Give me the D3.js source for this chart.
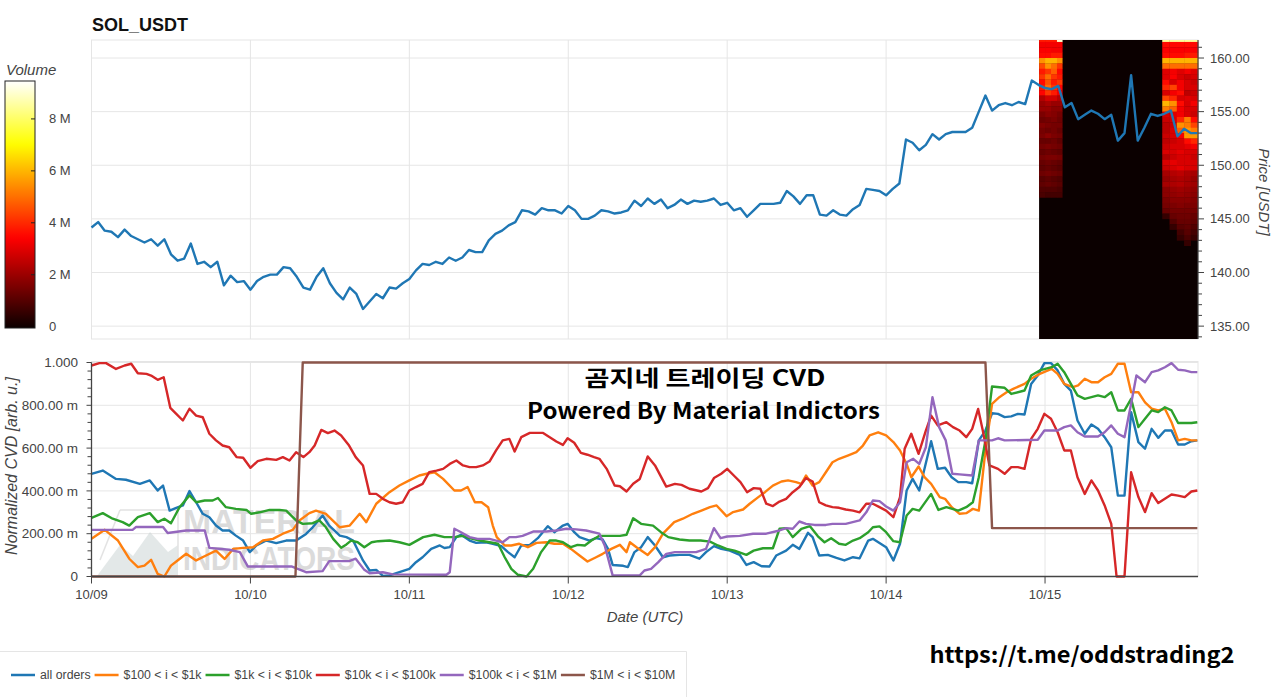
<!DOCTYPE html>
<html><head><meta charset="utf-8">
<script src="https://cdn.jsdelivr.net/npm/d3@7"></script>
<style>
body{margin:0;background:#fff;}
svg{display:block;font-family:"Liberation Sans",Arial,sans-serif;}
</style></head><body>
<svg id="c" width="1280" height="697"></svg>
<script>
// ---------------- DATA ----------------
const title = "SOL_USDT";
const dayTicks = [0,24,48,72,96,120,144];           // hours since 10/09 00:00 UTC
const dayLabels = ["10/09","10/10","10/11","10/12","10/13","10/14","10/15"];
const hourEnd = 167.1;

const priceTicks = [135,140,145,150,155,160];
// hourly SOL price, index = hour since 10/09 00:00
const price = [144.2,144.7,143.9,143.8,143.3,144.0,143.4,143.1,142.8,143.1,142.5,143.1,141.7,141.1,141.3,142.7,140.8,141.0,140.5,141.0,138.8,139.7,139.1,139.2,
138.4,139.2,139.6,139.8,139.8,140.5,140.4,139.6,138.6,138.4,139.6,140.4,139.0,138.1,137.5,138.6,138.0,136.6,137.3,138.0,137.6,138.6,138.5,139.0,
139.4,140.2,140.8,140.7,141.0,140.8,141.4,141.1,141.4,142.1,141.9,141.9,143.0,143.6,143.9,144.4,144.7,145.8,145.7,145.4,146.0,145.8,145.8,145.5,
146.2,145.8,145.0,145.0,145.3,145.8,145.7,145.5,145.6,145.8,146.7,146.2,146.9,146.4,146.8,146.0,146.3,146.8,146.4,146.7,146.6,146.7,146.9,146.3,
146.5,145.8,146.0,145.2,145.8,146.4,146.4,146.4,146.5,147.6,147.1,146.4,147.2,147.2,145.4,145.3,145.8,145.4,145.3,145.9,146.3,147.8,147.7,147.6,
147.2,147.8,148.3,152.4,152.1,151.4,151.9,152.9,152.4,152.9,153.1,153.1,153.1,153.5,155.0,156.5,155.1,155.6,155.8,155.6,155.9,155.7,157.9,157.5,
157.2,157.1,157.4,155.4,155.8,154.3,154.7,155.1,154.8,154.3,154.7,152.3,153.0,158.4,152.3,153.5,154.8,154.6,154.8,155.1,152.7,153.4,153.0,153.0];

// volume heatmap (millions); column edges in hours, rows of 0.5 USDT from 162 downward
const heatEdges = [143.1,144.0,144.9,145.8,146.6,161.7,162.8,163.9,165.0,166.0,167.1];
const heatTopPrice = 162, heatRowSize = 0.5;
const heatLeft = [ // columns 0..3
[3.8,3.8,3.8,9],[3.3,3.3,3.3,3.3],[3.4,3.4,3.3,3.3],[3.6,3.6,3.8,3.8],[5.5,6,6,5.5],[4.5,5.5,5,4.2],[3.8,4.2,4.8,3.6],[4.2,5,4.2,3.8],
[3.6,4.6,3.8,4.2],[3.8,5,4.2,3.5],[3.5,4.2,3.8,3.2],[2.4,2.8,2.8,2.4],[2,2.2,2,2],[2,2,1.8,1.8],[1.6,1.8,1.7,1.5],[1.4,1.5,1.6,1.4],
[1.7,1.6,1.5,1.5],[1.5,1.4,1.5,1.3],[1.6,1.8,1.6,1.5],[1.3,1.3,1.4,1.2],[1.5,1.6,1.5,1.4],[1.3,1.4,1.3,1.2],[1.5,1.6,1.6,1.5],
[1.3,1.4,1.3,1.2],[1.2,1.3,1.2,1.1],[1.4,1.5,1.4,1.3],[1.1,1.2,1.1,1.0],[1.2,1.3,1.2,1.1],[1.0,1.0,1.0,0.9],[0.9,0.8,0.8,0.8]];
const heatRight = [ // columns 5..9
[8.5,8.5,8.5,8.5,8.5],[3.6,3.6,3.6,3.6,3.6],[3.4,3.4,3.4,3.4,3.4],[3.6,3.6,3.6,3.8,3.8],[6,6,6,6,6],[5,5,5,5,5],
[3,3.3,3,3.3,3],[3,3.4,2.9,2.7,2.9],[3.6,2.9,3.3,2.9,2.7],[4,4.4,3.3,2.9,2.9],[2.9,3.3,3.6,2.5,2.7],[4.4,4,2.9,3,2.9],[6,5.5,3.6,2.9,3.3],
[5.2,4.8,3.3,2.9,2.9],[2.9,3,3.3,2.9,2.7],[2.7,2.9,4,5.2,3.6],[2.5,2.7,5.5,5.2,4.4],[2.5,2.9,4.8,5.6,5.2],[2.7,2.9,3.3,5.6,5.6],[2.5,2.7,2.9,3.6,4],
[2.7,2.9,2.9,3.1,3.3],[2.9,2.9,3.1,2.9,2.9],[2.4,2.7,2.9,2.9,2.7],[2.9,3.1,2.9,2.9,2.9],[2.7,2.9,3.1,2.9,2.9],[2.2,2.4,2.5,2.3,2.2],[2,2.2,2.3,2.2,2],
[2.2,2.3,2.4,2.2,2.1],[1.8,2,2.1,2,1.9],[1.8,1.9,2,1.9,1.8],[1.6,1.8,1.8,1.8,1.7],[1.5,1.6,1.7,1.6,1.6],[1.3,1.5,1.5,1.5,1.5],
[0.6,1.3,1.4,1.4,1.3],[0,1.0,1.3,1.3,1.2],[0,0.6,1.1,1.2,1.0],[0,0,0.8,1.1,0.8],[0,0,0.6,0.9,0.6],[0,0,0,0.6,0]];
const volMax = 9.46;
const volTicks = [0,2,4,6,8];
const volTickLabels = ["0","2 M","4 M","6 M","8 M"];

const cvdTicks = [0,0.2,0.4,0.6,0.8,1.0];
const cvdTickLabels = ["0","200.00 m","400.00 m","600.00 m","800.00 m","1.000"];
const seriesNames = ["all orders","$100 < i < $1k","$1k < i < $10k","$10k < i < $100k","$100k < i < $1M","$1M < i < $10M"];
const seriesColors = ["#1f77b4","#ff7f0e","#2ca02c","#d62728","#9467bd","#8c564b"];

// [hour, normalized CVD]
const cvdAll = [[0,.48],[1.7,.495],[3.7,.456],[5.2,.452],[7.3,.433],[8.8,.449],[10,.402],[10.8,.425],[11.8,.308],[12.8,.321],[13.8,.332],[14.8,.399],[15.8,.347],[16.8,.293],[17.8,.277],[18.8,.238],[19.8,.215],[20.8,.215],[21.8,.191],[22.9,.168],[23.9,.114],[24.9,.145],[26.4,.168],[27.9,.156],[29.4,.168],[30.9,.168],[32.4,.199],[33.4,.23],[34.9,.285],[35.9,.238],[37.5,.191],[38.5,.184],[39.5,.168],[41,.075],[42,.028],[43,.031],[44,.003],[45,.005],[46.5,.02],[48,.036],[49,.067],[50,.09],[51.3,.129],[52.6,.145],[53.3,.133],[54.1,.137],[55.1,.184],[55.8,.195],[57.1,.168],[58.1,.157],[59.6,.16],[60.6,.153],[61.9,.142],[62.9,.114],[63.9,.09],[64.9,.145],[66.2,.148],[67.4,.179],[68.9,.235],[69.9,.207],[71.2,.238],[71.9,.246],[72.9,.207],[73.7,.184],[75.2,.168],[76.2,.179],[77.2,.173],[78,.129],[78.7,.054],[80.3,.05],[81,.044],[82,.114],[83,.137],[84,.184],[85.1,.145],[86.3,.09],[87.3,.098],[88.8,.101],[90.3,.101],[91.8,.083],[92.8,.114],[94,.142],[95.1,.129],[96.4,.121],[97.9,.101],[98.9,.054],[100,.067],[101.2,.048],[102.4,.047],[103.4,.098],[104.9,.121],[105.9,.148],[106.9,.129],[108.2,.204],[108.9,.184],[109.9,.098],[111.2,.101],[112.5,.087],[113.7,.075],[115,.09],[116,.085],[117.3,.168],[118,.176],[120,.137],[121.1,.075],[122.1,.153],[123.1,.402],[124,.456],[125,.402],[126.8,.632],[127.8,.503],[128.9,.508],[129.9,.464],[130.9,.441],[132.1,.441],[133,.436],[134,.636],[135,.682],[136,.763],[136.9,.76],[137.9,.745],[138.9,.748],[139.9,.76],[140.9,.757],[141.9,.9],[142.9,.939],[143.9,.997],[144.9,.997],[145.9,.963],[146.9,.9],[147.9,.869],[148.9,.729],[150,.667],[151,.71],[152,.69],[153,.651],[154,.604],[155,.378],[156,.378],[157,.768],[158.1,.628],[159.1,.597],[160.1,.69],[161.1,.648],[162.1,.682],[163.1,.682],[164.1,.617],[165.1,.617],[166.1,.632],[167,.636]];
const cvd100 = [[0,.176],[2,.218],[4,.168],[5.7,.083],[7,.044],[8,.051],[9,.078],[10,.012],[11,0],[12,.051],[13,.075],[14.3,.106],[15.8,.075],[17.3,.098],[18.8,.121],[20.1,.082],[21.4,.129],[22.9,.134],[24.4,.137],[25.9,.168],[27.4,.176],[28.9,.2],[30.4,.218],[31.4,.262],[32.9,.296],[33.9,.308],[35.4,.293],[37.5,.23],[39,.238],[40.5,.293],[41.5,.254],[43,.34],[45,.394],[46.5,.425],[48,.449],[49.5,.472],[50.6,.48],[51.8,.487],[53.1,.456],[54.8,.402],[55.8,.402],[56.8,.418],[57.9,.347],[58.9,.347],[59.9,.324],[60.6,.238],[61.2,.184],[62.4,.145],[63.4,.145],[64.6,.153],[65.9,.137],[67.2,.157],[68.7,.16],[69.9,.153],[71.2,.153],[72.4,.129],[73.7,.098],[74.9,.07],[76.2,.09],[77.2,.106],[78.5,.129],[79.8,.148],[80.8,.114],[81.3,.16],[82.3,.137],[84,.101],[85.1,.137],[86.3,.2],[88,.254],[89.3,.27],[90.8,.293],[92.1,.308],[93.4,.324],[94.4,.332],[95.9,.282],[96.9,.301],[98.4,.313],[99.4,.34],[100.7,.371],[101.7,.394],[102.9,.425],[104.2,.444],[105.2,.449],[106.4,.441],[107.2,.433],[107.9,.472],[108.9,.425],[109.9,.441],[110.9,.487],[111.9,.534],[112.9,.55],[114.2,.565],[115.5,.581],[116.5,.612],[117.5,.659],[118.8,.674],[120,.659],[121.1,.628],[122.1,.589],[123.1,.526],[123.8,.464],[124.9,.514],[125.8,.464],[126.8,.433],[128.1,.371],[128.9,.363],[129.9,.324],[131.1,.293],[132.1,.296],[133.1,.316],[134,.308],[135,.589],[136,.807],[137.1,.838],[138.2,.861],[139.2,.877],[140.9,.9],[141.9,.924],[143.2,.947],[145,.97],[145.9,.947],[146.9,.9],[148.2,.885],[149,.893],[150,.924],[151,.908],[152,.908],[153,.931],[154,.947],[155,.994],[156,.994],[157,.861],[158.1,.861],[159.1,.814],[160.1,.784],[161.1,.776],[162.1,.784],[163.1,.721],[164.1,.636],[165.1,.643],[166.1,.636],[167,.636]];
const cvd1k = [[0,.274],[1.7,.296],[3.2,.27],[4.7,.254],[5.7,.238],[7,.277],[8.8,.296],[10,.254],[11,.27],[12,.249],[13.3,.324],[14.8,.379],[15.8,.347],[17.1,.355],[18.3,.355],[19.1,.367],[20.3,.324],[21.8,.316],[23.4,.311],[24.1,.293],[25.4,.3],[26.9,.311],[28.4,.311],[29.4,.308],[30.9,.262],[31.9,.246],[33.4,.249],[34.4,.262],[35.4,.23],[36.5,.176],[37.7,.134],[38.5,.15],[39.2,.168],[40.2,.16],[41.2,.137],[42.3,.16],[43.3,.165],[45,.168],[46.5,.16],[48,.148],[50.1,.184],[51.8,.195],[53.3,.184],[54.8,.184],[56.1,.19],[57.1,.179],[58.6,.168],[60.1,.16],[61.4,.153],[62.4,.09],[63.4,.036],[64.4,.008],[65.7,0],[66.7,.036],[67.9,.114],[69.2,.168],[70.2,.168],[71.2,.16],[72.4,.137],[73.4,.148],[74.5,.145],[75.5,.168],[76.7,.19],[78.3,.19],[79.8,.19],[80.8,.195],[81.8,.272],[83,.246],[84.8,.238],[86,.207],[87.1,.184],[88.8,.173],[90.3,.168],[92,.168],[93.4,.163],[94.6,.145],[95.9,.129],[97.1,.121],[98.9,.101],[100,.121],[101.4,.132],[102.9,.132],[103.9,.223],[104.9,.226],[105.9,.184],[107.2,.223],[108.5,.235],[109.7,.188],[110.7,.16],[111.7,.179],[112.9,.153],[113.9,.148],[115,.168],[116,.179],[117.3,.207],[118,.23],[119,.234],[120,.207],[121.1,.165],[122.1,.16],[123.1,.285],[124,.316],[125,.308],[126.8,.386],[127.9,.311],[129.1,.324],[130.9,.308],[132.1,.324],[133.1,.347],[134,.464],[135,.636],[136,.888],[137.9,.882],[138.9,.853],[140.9,.869],[141.9,.939],[143.2,.963],[145,.978],[145.9,.994],[146.9,.955],[147.9,.9],[148.9,.846],[150,.83],[152,.846],[153,.838],[154,.861],[155,.776],[156,.776],[157,.83],[158.1,.698],[159.1,.737],[160.1,.776],[161.1,.768],[162.1,.791],[163.1,.776],[164.1,.717],[166.1,.717],[167,.721]];
const cvd10k = [[0,.986],[1.2,.997],[2.2,.997],[3.7,.97],[5,.986],[6,.994],[7,.95],[8.3,.947],[9,.939],[10,.919],[10.9,.931],[11.9,.788],[12.8,.76],[13.8,.729],[14.8,.784],[15.8,.752],[16.8,.744],[17.8,.667],[18.8,.636],[19.8,.612],[20.8,.604],[21.9,.558],[22.9,.555],[24,.508],[25.1,.539],[26.4,.55],[27.9,.545],[28.9,.558],[29.9,.542],[30.9,.581],[32,.558],[32.9,.581],[33.7,.612],[34.7,.685],[35.7,.67],[36.7,.682],[37.7,.659],[38.9,.612],[39.9,.558],[41,.519],[42,.386],[43,.386],[44,.363],[45,.347],[46,.34],[47,.347],[48,.402],[49,.418],[50,.433],[51,.488],[52.1,.495],[53.1,.503],[54.1,.526],[55.1,.542],[56.1,.519],[57.1,.511],[58.1,.511],[59.1,.519],[60.1,.537],[61.1,.589],[62.1,.636],[63.1,.643],[63.9,.584],[64.9,.651],[66.2,.671],[67.2,.671],[68.2,.671],[69.2,.651],[70.2,.631],[71.2,.615],[71.9,.646],[72.9,.625],[73.9,.578],[74.9,.569],[75.9,.558],[76.7,.55],[77.8,.503],[79,.425],[79.8,.422],[80.8,.397],[81.8,.433],[82.8,.456],[84,.561],[85.1,.519],[86.8,.42],[88.1,.433],[89.1,.428],[90.3,.41],[92.1,.397],[93.1,.413],[94,.46],[95.1,.48],[96,.503],[97,.472],[98,.441],[99,.394],[100,.413],[101,.41],[101.9,.34],[102.9,.329],[103.9,.35],[104.9,.363],[105.9,.394],[106.9,.418],[107.9,.46],[108.9,.444],[109.9,.347],[110.9,.332],[111.9,.324],[112.9,.321],[113.9,.313],[115,.308],[116,.3],[117,.34],[118,.34],[119,.324],[120,.308],[121.1,.277],[122.1,.371],[122.8,.597],[123.8,.667],[124.9,.573],[126,.682],[126.8,.752],[127.8,.706],[129.1,.721],[130.1,.698],[131.1,.682],[132.1,.651],[133,.69],[133.9,.783],[134.6,.682],[135.6,.519],[136.9,.503],[137.9,.48],[138.9,.511],[139.9,.511],[140.9,.503],[141.9,.643],[142.9,.69],[143.9,.76],[144.9,.737],[145.9,.674],[146.9,.589],[147.9,.589],[148.9,.464],[150,.386],[151,.449],[152,.402],[153,.332],[154,.246],[154.8,0],[156,0],[157,.487],[158.1,.371],[159.1,.301],[160.1,.389],[161.1,.343],[162.1,.363],[163.1,.383],[164.1,.378],[165.1,.371],[166.1,.397],[167,.402]];
const cvd100k = [[0,.218],[6.2,.218],[6.7,.231],[10.8,.231],[11.5,.203],[14.3,.215],[17.1,.215],[17.8,.134],[20.8,.125],[22.4,.114],[23.6,.047],[30.2,.047],[32.4,.02],[34.9,.025],[35.9,.072],[38.9,.072],[39.9,.083],[41.2,.031],[42,.015],[44,.02],[45.5,.01],[53.6,.008],[54.1,.02],[54.8,.223],[55.8,.207],[57.1,.184],[58.3,.176],[60.1,.176],[61.1,.168],[62.1,.16],[63.1,.184],[64.1,.184],[65.1,.19],[66.7,.21],[68.7,.21],[70.2,.215],[71.7,.223],[73.2,.22],[74.7,.215],[76.7,.2],[77.5,.145],[78.7,.005],[82.8,.005],[83.5,.028],[84.5,.036],[85.6,.067],[86.8,.106],[88.1,.114],[91.3,.114],[92.8,.129],[94,.226],[95,.179],[96,.187],[97.9,.19],[99.9,.2],[101.9,.2],[103.9,.215],[104.9,.226],[105.9,.223],[106.9,.257],[107.9,.246],[109.2,.241],[110.9,.241],[111.9,.246],[113.9,.246],[116,.262],[117,.3],[118,.355],[119,.352],[120,.327],[121.1,.308],[122.1,.347],[123.1,.534],[124.1,.55],[125,.526],[126,.604],[127,.838],[128,.698],[129,.636],[130,.48],[131.1,.477],[133,.472],[134,.636],[136,.636],[136.9,.646],[137.9,.636],[142.9,.639],[143.9,.682],[145.9,.682],[146.9,.698],[147.9,.706],[148.9,.674],[150,.654],[152,.654],[153,.674],[154,.706],[155,.667],[156,.651],[157,.807],[157.8,.939],[159.1,.908],[160.1,.955],[161.1,.963],[162.1,.978],[163.1,.997],[164.1,.966],[165.1,.963],[166.1,.955],[167,.955]];
const cvd1M = [[0,0],[30.8,0],[31.9,1],[135,1],[136,.226],[167,.226]];

// ---------------- DRAW ----------------
(function(){
const svg = d3.select("#c");
const L = 91.5, R = 1198;
const topY0 = 40, topY1 = 339;
const botY0 = 362.5, botY1 = 576.5;
const grid = "#e6e6e6", axisCol = "#444", txt = "#444";

const x = d3.scaleLinear().domain([0, hourEnd]).range([L, R]);
const yP = d3.scaleLinear().domain([133.8, 161.68]).range([topY1, topY0]);
const yC = d3.scaleLinear().domain([0, 1]).range([botY1, botY0]);
const yV = d3.scaleLinear().domain([-0.05, volMax]).range([328, 81]);

function hot(v){
  const t = Math.max(0, Math.min(1, v / volMax));
  const r = t < 0.365079 ? 0.0416 + (1-0.0416)*t/0.365079 : 1;
  const g = t < 0.365079 ? 0 : (t < 0.746032 ? (t-0.365079)/(0.746032-0.365079) : 1);
  const b = t < 0.746032 ? 0 : (t-0.746032)/(1-0.746032);
  return d3.rgb(r*255, g*255, b*255).toString();
}

// title
svg.append("text").attr("x", 92).attr("y", 31).attr("font-size", 18).attr("font-weight", "bold")
  .attr("fill", "#111").text(title);

// ---- top panel ----
const topG = svg.append("g");
topG.append("rect").attr("x", L).attr("y", topY0).attr("width", R-L).attr("height", topY1-topY0)
  .attr("fill", "#fff").attr("stroke", "#e5e5e5");
topG.selectAll(".hg").data(priceTicks).join("line")
  .attr("x1", L).attr("x2", R).attr("y1", d=>yP(d)).attr("y2", d=>yP(d)).attr("stroke", grid);
topG.selectAll(".vg").data(dayTicks.slice(1)).join("line")
  .attr("x1", d=>x(d)).attr("x2", d=>x(d)).attr("y1", topY0).attr("y2", topY1).attr("stroke", grid);

// heatmap
const hm = topG.append("g");
hm.append("rect").attr("x", x(heatEdges[0])).attr("y", topY0)
  .attr("width", x(heatEdges[heatEdges.length-1]) - x(heatEdges[0])).attr("height", topY1-topY0)
  .attr("fill", hot(0));
const cells = [];
heatLeft.forEach((row, ri) => row.forEach((v, ci) => cells.push({c: ci, r: ri, v})));
heatRight.forEach((row, ri) => row.forEach((v, ci) => cells.push({c: ci + 5, r: ri, v})));
hm.selectAll("rect.cell").data(cells.filter(d=>d.v>0)).join("rect").attr("class","cell")
  .attr("x", d=>x(heatEdges[d.c])).attr("width", d=>x(heatEdges[d.c+1]) - x(heatEdges[d.c]) + 0.3)
  .attr("y", d=>Math.max(topY0, yP(heatTopPrice - heatRowSize*d.r)))
  .attr("height", d=>yP(heatTopPrice - heatRowSize*(d.r+1)) - Math.max(topY0, yP(heatTopPrice - heatRowSize*d.r)) + 0.3)
  .attr("fill", d=>hot(d.v));

// price line
topG.append("path").datum(price)
  .attr("d", d3.line().x((d,i)=>x(i)).y(d=>yP(d)))
  .attr("fill", "none").attr("stroke", "#1f77b4").attr("stroke-width", 2.4).attr("stroke-linejoin", "round");

// right axis
const minorP = d3.range(134, 162, 1).filter(v => v % 5 !== 0);
const ax = svg.append("g");
ax.append("line").attr("x1", R).attr("x2", R).attr("y1", topY0).attr("y2", topY1).attr("stroke", axisCol).attr("stroke-width", 1.2);
ax.selectAll(".mj").data(priceTicks).join("line").attr("class","mj").attr("x1", R).attr("x2", R+6)
  .attr("y1", d=>yP(d)).attr("y2", d=>yP(d)).attr("stroke", axisCol);
ax.selectAll(".mn").data(minorP).join("line").attr("class","mn").attr("x1", R).attr("x2", R+4)
  .attr("y1", d=>yP(d)).attr("y2", d=>yP(d)).attr("stroke", axisCol);
ax.selectAll(".pl").data(priceTicks).join("text").attr("class","pl").attr("x", 1210).attr("y", d=>yP(d)).attr("dy", "0.35em")
  .attr("font-size", 13).attr("fill", txt).text(d=>d.toFixed(2));
svg.append("text").attr("transform", "translate(1259,192) rotate(90)").attr("text-anchor", "middle")
  .attr("font-size", 15).attr("font-style", "italic").attr("fill", txt).text("Price [USDT]");

// colorbar
const defs = svg.append("defs");
const grad = defs.append("linearGradient").attr("id", "hotg").attr("x1", 0).attr("x2", 0).attr("y1", 1).attr("y2", 0);
d3.range(0, 1.0001, 0.02).forEach(t => grad.append("stop").attr("offset", t).attr("stop-color", hot(t*volMax)));
svg.append("rect").attr("x", 5).attr("y", 81).attr("width", 30).attr("height", 247)
  .attr("fill", "url(#hotg)").attr("stroke", "#222").attr("stroke-width", 1);
svg.selectAll(".cbt").data(volTicks.slice(1)).join("line").attr("class","cbt").attr("x1", 31).attr("x2", 35)
  .attr("y1", d=>yV(d)).attr("y2", d=>yV(d)).attr("stroke", "#222");
svg.selectAll(".cbl").data(volTicks).join("text").attr("class","cbl").attr("x", 49).attr("y", d=>yV(d)).attr("dy", "0.35em")
  .attr("font-size", 13).attr("fill", txt).text((d,i)=>volTickLabels[i]);
svg.append("text").attr("x", 6).attr("y", 75).attr("font-size", 15).attr("font-style", "italic")
  .attr("fill", txt).text("Volume");

// ---- bottom panel ----
const botG = svg.append("g");
botG.append("rect").attr("x", L).attr("y", botY0-1).attr("width", R-L).attr("height", botY1-botY0+1)
  .attr("fill", "#fff").attr("stroke", "#e5e5e5");
botG.selectAll(".hg").data(cvdTicks).join("line").attr("class","hg")
  .attr("x1", L).attr("x2", R).attr("y1", d=>yC(d)).attr("y2", d=>yC(d)).attr("stroke", grid);
botG.selectAll(".vg").data(dayTicks.slice(1)).join("line").attr("class","vg")
  .attr("x1", d=>x(d)).attr("x2", d=>x(d)).attr("y1", botY0).attr("y2", botY1).attr("stroke", grid);

// watermark
const wm = botG.append("g").attr("opacity", 0.5);
wm.append("path").attr("d", "M97,576 L120,545 L133,556 L150,532 L168,552 L178,545 L178,576 Z").attr("fill", "#c9d3d3");
wm.append("path").attr("d", "M120,510 L178,510 L178,560 M120,510 L100,560").attr("fill", "none").attr("stroke", "#c8c8c8").attr("stroke-width", 1.5);
wm.append("text").attr("x", 183).attr("y", 533).attr("font-size", 34).attr("font-weight", "bold")
  .attr("fill", "#b8b8b8").attr("textLength", 172).attr("lengthAdjust", "spacingAndGlyphs").text("MATERIAL");
wm.append("text").attr("x", 183).attr("y", 570).attr("font-size", 34).attr("font-weight", "bold")
  .attr("fill", "#b8b8b8").attr("textLength", 172).attr("lengthAdjust", "spacingAndGlyphs").text("INDICATORS");

// CVD lines
const cvdSeries = [cvdAll, cvd100, cvd1k, cvd10k, cvd100k, cvd1M];
const cline = d3.line().x(d=>x(d[0])).y(d=>yC(d[1]));
cvdSeries.forEach((s, i) => {
  botG.append("path").datum(s).attr("d", cline).attr("fill", "none")
    .attr("stroke", seriesColors[i]).attr("stroke-width", 2.4).attr("stroke-linejoin", "round");
});

// axes bottom panel
const minorC = d3.range(0.04, 1, 0.04).filter(v => Math.abs(v*5 - Math.round(v*5)) > 1e-6);
const ba = svg.append("g");
ba.append("line").attr("x1", L).attr("x2", L).attr("y1", botY0).attr("y2", botY1).attr("stroke", axisCol).attr("stroke-width", 1.3);
ba.append("line").attr("x1", L).attr("x2", R).attr("y1", botY1).attr("y2", botY1).attr("stroke", axisCol).attr("stroke-width", 1.3);
ba.selectAll(".mj").data(cvdTicks).join("line").attr("class","mj").attr("x1", L-5).attr("x2", L)
  .attr("y1", d=>yC(d)).attr("y2", d=>yC(d)).attr("stroke", axisCol);
ba.selectAll(".mn").data(minorC).join("line").attr("class","mn").attr("x1", L-4).attr("x2", L)
  .attr("y1", d=>yC(d)).attr("y2", d=>yC(d)).attr("stroke", axisCol);
ba.selectAll(".yl").data(cvdTicks).join("text").attr("class","yl").attr("x", 78).attr("y", d=>yC(d)).attr("dy", "0.35em")
  .attr("text-anchor", "end").attr("font-size", 13.5).attr("fill", txt).text((d,i)=>cvdTickLabels[i]);
ba.selectAll(".xt").data(dayTicks).join("line").attr("class","xt").attr("x1", d=>x(d)).attr("x2", d=>x(d))
  .attr("y1", botY1).attr("y2", botY1+7).attr("stroke", axisCol);
ba.selectAll(".xl").data(dayTicks).join("text").attr("class","xl").attr("x", d=>x(d)).attr("y", 594).attr("dy", "0.35em")
  .attr("text-anchor", "middle").attr("font-size", 13).attr("fill", txt).text((d,i)=>dayLabels[i]);
svg.append("text").attr("x", 645).attr("y", 622).attr("text-anchor", "middle").attr("font-size", 15)
  .attr("font-style", "italic").attr("fill", txt).text("Date (UTC)");
svg.append("text").attr("transform", "translate(17,466) rotate(-90)").attr("text-anchor", "middle")
  .attr("font-size", 16).attr("font-style", "italic").attr("fill", txt).text("Normalized CVD [arb. u.]");

// legend
const lg = svg.append("g");
lg.append("path").attr("d", "M0,651.5 H686.5 V697").attr("fill", "none").attr("stroke", "#e5e5e5");
let lx = 11;
seriesNames.forEach((n, i) => {
  lg.append("line").attr("x1", lx).attr("x2", lx+24).attr("y1", 675).attr("y2", 675)
    .attr("stroke", seriesColors[i]).attr("stroke-width", 2.5);
  const t = lg.append("text").attr("x", lx+29).attr("y", 675).attr("dy", "0.35em").attr("font-size", 12.3)
    .attr("fill", txt).text(n);
  lx = lx + 29 + t.node().getComputedTextLength() + 4;
});

// overlay texts
const kfont = '"Noto Sans CJK KR","Noto Sans",sans-serif';
svg.append("text").attr("x", 705).attr("y", 386).attr("text-anchor", "middle").attr("font-family", kfont)
  .attr("font-size", 22).attr("font-weight", "bold").attr("fill", "#000")
  .attr("textLength", 241).attr("lengthAdjust", "spacingAndGlyphs").text("곰지네 트레이딩 CVD");
svg.append("text").attr("x", 703.5).attr("y", 419).attr("text-anchor", "middle").attr("font-family", kfont)
  .attr("font-size", 22).attr("font-weight", "bold").attr("fill", "#000")
  .attr("textLength", 353).attr("lengthAdjust", "spacingAndGlyphs").text("Powered By Material Indictors");
svg.append("text").attr("x", 1082).attr("y", 663).attr("text-anchor", "middle").attr("font-family", kfont)
  .attr("font-size", 22).attr("font-weight", "bold").attr("fill", "#000")
  .attr("textLength", 305).attr("lengthAdjust", "spacingAndGlyphs").text("https://t.me/oddstrading2");
})();
</script>
</body></html>
